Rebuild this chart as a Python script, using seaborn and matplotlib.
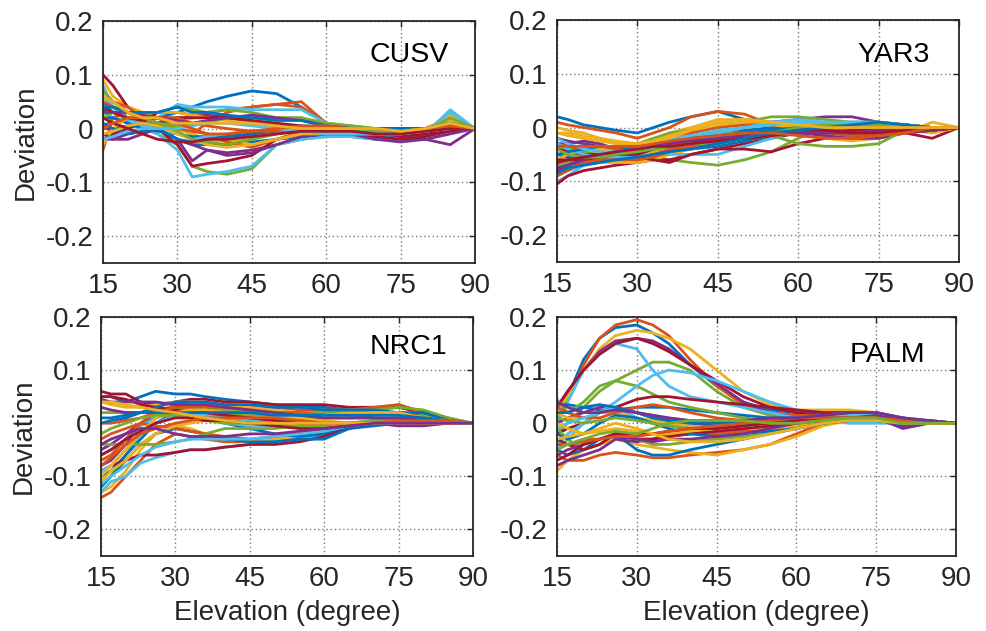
import matplotlib
matplotlib.use("Agg")
import matplotlib.pyplot as plt
import seaborn as sns
import pandas as pd

# ---------------- data ----------------
elevation = [15, 17, 20, 23, 26, 30, 33, 36, 40, 45, 50, 55, 60, 65, 70, 75, 80, 85, 90]
x_ticks = [15, 30, 45, 60, 75, 90]
y_ticks = [-0.2, -0.1, 0, 0.1, 0.2]
y_tick_labels = ["-0.2", "-0.1", "0", "0.1", "0.2"]
stations = ["CUSV", "YAR3", "NRC1", "PALM"]
matlab_colors = ["#0072BD", "#D95319", "#EDB120", "#7E2F8E", "#77AC30", "#4DBEEE", "#A2142F"]

cusv_curves = [
    [0.03, 0.05, 0.03, 0.02, 0.02, 0.03, 0.04, 0.05, 0.06, 0.07, 0.065, 0.04, 0.01, 0.0, 0.0, -0.005, -0.005, 0.0, 0.0],
    [-0.04, 0.02, 0.03, 0.03, 0.02, 0.0, -0.01, 0.01, 0.03, 0.04, 0.045, 0.05, 0.01, 0.0, 0.0, -0.005, 0.0, 0.02, 0.0],
    [0.09, 0.06, 0.04, 0.03, 0.01, 0.0, -0.01, -0.02, -0.025, -0.02, -0.01, -0.005, -0.005, -0.005, -0.01, -0.01, -0.005, 0.025, 0.0],
    [-0.02, -0.02, -0.01, -0.005, 0.0, -0.02, -0.06, -0.04, -0.045, -0.04, -0.03, -0.02, -0.01, -0.01, -0.015, -0.02, -0.02, -0.03, 0.0],
    [0.03, 0.02, 0.01, 0.0, -0.01, -0.03, -0.07, -0.08, -0.085, -0.075, -0.03, -0.02, -0.015, -0.015, -0.02, -0.02, -0.01, -0.005, 0.0],
    [0.08, 0.04, 0.01, 0.0, -0.01, -0.04, -0.09, -0.085, -0.08, -0.07, -0.03, -0.02, -0.015, -0.015, -0.02, -0.02, -0.01, 0.035, 0.0],
    [0.1, 0.08, 0.04, 0.02, 0.0, -0.03, -0.07, -0.065, -0.06, -0.05, -0.02, -0.01, -0.01, -0.01, -0.015, -0.02, -0.015, -0.005, 0.0],
    [0.05, 0.03, 0.02, 0.01, 0.0, -0.02, -0.03, -0.03, -0.03, -0.025, -0.02, -0.015, -0.01, -0.01, -0.01, -0.015, -0.01, 0.0, 0.0],
    [0.0, 0.02, 0.03, 0.02, 0.01, 0.02, 0.02, 0.03, 0.035, 0.04, 0.045, 0.04, 0.01, 0.005, 0.0, 0.0, 0.0, 0.01, 0.0],
    [0.06, 0.04, 0.04, 0.03, 0.02, 0.01, 0.0, -0.01, -0.02, -0.03, -0.02, -0.01, -0.005, 0.0, -0.005, -0.01, 0.0, 0.02, 0.0],
    [0.0, 0.0, 0.005, 0.01, 0.01, 0.02, 0.02, 0.025, 0.02, 0.01, 0.005, 0.0, 0.0, 0.0, 0.0, 0.0, 0.0, 0.0, 0.0],
    [0.04, 0.03, 0.02, 0.02, 0.03, 0.04, 0.035, 0.03, 0.035, 0.03, 0.02, 0.02, 0.005, 0.0, 0.0, -0.005, 0.0, 0.01, 0.0],
    [0.03, 0.02, 0.015, 0.01, 0.02, 0.045, 0.04, 0.04, 0.04, 0.035, 0.035, 0.035, 0.01, 0.0, 0.0, -0.01, -0.005, 0.03, 0.0],
    [-0.02, -0.01, 0.0, 0.01, 0.03, 0.03, 0.025, 0.02, 0.02, 0.01, 0.005, 0.0, -0.005, -0.005, -0.01, -0.01, -0.005, 0.005, 0.0],
    [0.02, 0.02, 0.01, 0.0, -0.005, -0.01, -0.015, -0.015, -0.015, -0.01, -0.005, -0.005, -0.005, -0.005, -0.005, -0.01, -0.005, 0.0, 0.0],
    [0.07, 0.05, 0.04, 0.02, 0.005, 0.0, -0.005, -0.01, -0.025, -0.035, -0.02, -0.005, 0.0, 0.0, -0.005, -0.005, 0.0, 0.005, 0.0],
    [-0.03, 0.0, 0.02, 0.03, 0.03, 0.03, 0.025, 0.02, 0.015, 0.01, 0.0, -0.005, -0.005, -0.005, -0.005, -0.01, 0.0, 0.015, 0.0],
    [-0.01, -0.02, -0.02, -0.01, 0.0, -0.02, -0.03, -0.04, -0.05, -0.045, -0.03, -0.015, -0.01, -0.01, -0.02, -0.025, -0.02, -0.01, 0.0],
    [0.02, 0.03, 0.02, 0.02, 0.01, 0.005, 0.01, 0.01, 0.02, 0.02, 0.02, 0.02, 0.01, 0.005, 0.0, -0.005, 0.0, 0.005, 0.0],
    [0.06, 0.04, 0.02, 0.005, 0.0, -0.01, -0.02, -0.015, -0.01, -0.005, 0.0, 0.005, 0.005, 0.0, 0.0, -0.005, 0.0, 0.01, 0.0],
    [0.04, 0.03, 0.02, 0.015, 0.02, 0.02, 0.02, 0.02, 0.02, 0.015, 0.01, 0.005, 0.0, 0.0, -0.005, -0.015, -0.01, 0.0, 0.0],
    [0.01, 0.0, -0.01, -0.005, 0.0, -0.02, -0.025, -0.02, -0.015, -0.01, 0.0, 0.0, 0.0, 0.0, -0.005, -0.005, 0.0, 0.005, 0.0],
    [0.05, 0.04, 0.03, 0.02, 0.02, 0.02, 0.01, 0.005, 0.0, -0.005, -0.005, -0.005, 0.0, 0.0, 0.0, 0.0, 0.0, 0.01, 0.0],
    [-0.01, -0.005, 0.005, 0.01, 0.005, -0.01, -0.02, -0.03, -0.035, -0.03, -0.02, -0.01, -0.01, -0.01, -0.01, -0.01, -0.005, 0.0, 0.0],
    [0.03, 0.03, 0.03, 0.025, 0.02, 0.015, 0.01, 0.015, 0.02, 0.025, 0.02, 0.015, 0.005, 0.0, 0.0, 0.0, 0.0, 0.005, 0.0],
    [0.07, 0.05, 0.03, 0.02, 0.01, -0.005, -0.02, -0.025, -0.03, -0.02, -0.01, 0.0, 0.0, 0.0, -0.005, -0.01, -0.005, 0.02, 0.0],
    [-0.02, -0.015, -0.005, 0.0, 0.0, 0.0, 0.005, 0.01, 0.01, 0.005, 0.0, -0.005, -0.01, -0.01, -0.01, -0.01, -0.005, 0.0, 0.0],
    [0.02, 0.01, 0.0, -0.01, -0.02, -0.025, -0.025, -0.02, -0.02, -0.015, -0.01, -0.005, -0.005, -0.005, -0.01, -0.01, -0.005, 0.0, 0.0],
    [0.04, 0.04, 0.03, 0.03, 0.03, 0.04, 0.03, 0.03, 0.025, 0.02, 0.015, 0.015, 0.005, 0.0, 0.0, 0.0, 0.0, 0.01, 0.0],
    [0.0, 0.01, 0.02, 0.02, 0.02, 0.01, 0.0, -0.01, -0.01, -0.005, 0.0, 0.005, 0.005, 0.0, 0.0, -0.005, 0.0, 0.005, 0.0],
    [0.06, 0.05, 0.03, 0.02, 0.02, 0.01, 0.01, 0.01, 0.01, 0.01, 0.005, 0.0, 0.0, 0.0, 0.0, -0.005, 0.0, 0.01, 0.0],
]

yar3_curves = [
    [0.02, 0.015, 0.005, 0.0, -0.005, -0.01, 0.0, 0.01, 0.02, 0.03, 0.015, 0.01, 0.005, 0.005, 0.005, 0.005, 0.005, 0.0, 0.0],
    [0.01, 0.005, 0.0, -0.005, -0.01, -0.02, -0.01, 0.0, 0.02, 0.03, 0.025, 0.005, 0.0, -0.005, -0.005, 0.0, 0.0, -0.005, 0.0],
    [-0.01, -0.01, -0.015, -0.02, -0.03, -0.04, -0.03, -0.01, 0.0, 0.015, 0.015, 0.01, 0.005, 0.0, 0.0, 0.0, -0.005, -0.01, 0.0],
    [-0.03, -0.03, -0.025, -0.03, -0.04, -0.045, -0.04, -0.03, -0.02, -0.01, 0.0, 0.01, 0.015, 0.02, 0.02, 0.01, 0.005, 0.0, 0.0],
    [-0.05, -0.05, -0.045, -0.05, -0.05, -0.05, -0.055, -0.06, -0.065, -0.07, -0.06, -0.045, -0.02, 0.0, 0.005, 0.005, 0.0, 0.0, 0.0],
    [-0.1, -0.09, -0.07, -0.06, -0.055, -0.05, -0.045, -0.04, -0.03, -0.02, -0.01, 0.0, 0.0, 0.005, 0.005, 0.005, 0.0, 0.0, 0.0],
    [-0.105, -0.09, -0.08, -0.075, -0.07, -0.065, -0.06, -0.06, -0.05, -0.04, -0.03, -0.02, -0.01, -0.005, -0.005, -0.005, -0.01, -0.02, 0.0],
    [-0.07, -0.06, -0.05, -0.05, -0.05, -0.05, -0.045, -0.04, -0.04, -0.035, -0.025, -0.015, -0.005, 0.0, 0.0, 0.005, 0.005, -0.005, 0.0],
    [-0.06, -0.07, -0.065, -0.06, -0.06, -0.055, -0.05, -0.04, -0.03, -0.025, -0.02, -0.01, 0.0, 0.005, 0.005, 0.005, 0.005, 0.0, 0.0],
    [-0.08, -0.075, -0.07, -0.065, -0.065, -0.065, -0.06, -0.05, -0.04, -0.03, -0.02, -0.01, -0.005, 0.0, 0.0, 0.0, 0.0, -0.01, 0.0],
    [-0.02, -0.025, -0.03, -0.035, -0.04, -0.04, -0.035, -0.025, -0.01, 0.005, 0.01, 0.005, 0.0, 0.0, -0.005, -0.005, -0.01, -0.005, 0.0],
    [-0.04, -0.04, -0.04, -0.04, -0.035, -0.03, -0.02, -0.01, -0.005, 0.0, 0.01, 0.02, 0.02, 0.015, 0.01, 0.01, 0.005, 0.0, 0.0],
    [-0.09, -0.08, -0.07, -0.06, -0.05, -0.05, -0.05, -0.05, -0.05, -0.05, -0.035, -0.02, -0.005, 0.0, 0.0, 0.0, -0.005, 0.0, 0.0],
    [-0.04, -0.045, -0.05, -0.05, -0.05, -0.055, -0.06, -0.065, -0.05, -0.04, -0.04, -0.045, -0.03, -0.02, -0.02, -0.01, 0.0, -0.005, 0.0],
    [-0.05, -0.055, -0.06, -0.06, -0.055, -0.05, -0.045, -0.035, -0.02, -0.01, -0.005, 0.0, 0.0, 0.005, 0.01, 0.01, 0.005, 0.0, 0.0],
    [-0.03, -0.035, -0.04, -0.04, -0.04, -0.035, -0.03, -0.02, -0.01, 0.0, 0.005, 0.005, 0.0, -0.01, -0.015, -0.01, -0.01, -0.005, 0.0],
    [-0.06, -0.05, -0.04, -0.04, -0.045, -0.05, -0.045, -0.035, -0.025, -0.01, 0.0, 0.005, 0.0, -0.02, -0.025, -0.02, -0.01, 0.01, 0.0],
    [-0.08, -0.07, -0.06, -0.055, -0.05, -0.045, -0.04, -0.035, -0.03, -0.025, -0.02, -0.015, -0.01, -0.015, -0.02, -0.02, -0.01, -0.005, 0.0],
    [-0.07, -0.065, -0.06, -0.055, -0.05, -0.045, -0.04, -0.03, -0.02, -0.01, -0.01, -0.015, -0.03, -0.035, -0.035, -0.03, -0.005, 0.0, 0.0],
    [-0.03, -0.04, -0.05, -0.055, -0.055, -0.05, -0.04, -0.03, -0.02, -0.01, 0.0, 0.01, 0.015, 0.01, 0.005, 0.0, -0.005, 0.0, 0.0],
    [-0.06, -0.06, -0.06, -0.055, -0.05, -0.05, -0.04, -0.03, -0.025, -0.02, -0.02, -0.015, -0.01, -0.01, -0.005, 0.0, 0.0, -0.005, 0.0],
    [-0.05, -0.045, -0.04, -0.035, -0.035, -0.04, -0.035, -0.03, -0.02, -0.015, -0.01, -0.005, 0.0, 0.0, 0.0, 0.0, 0.0, 0.0, 0.0],
    [-0.09, -0.08, -0.065, -0.06, -0.06, -0.06, -0.055, -0.045, -0.035, -0.025, -0.015, -0.01, -0.005, -0.005, 0.0, 0.0, 0.0, 0.0, 0.0],
    [-0.01, -0.015, -0.02, -0.025, -0.03, -0.03, -0.025, -0.015, -0.005, 0.005, 0.01, 0.01, 0.005, 0.005, 0.005, 0.005, 0.0, 0.0, 0.0],
    [-0.075, -0.07, -0.06, -0.05, -0.045, -0.04, -0.035, -0.03, -0.025, -0.02, -0.015, -0.01, -0.01, -0.01, -0.01, -0.005, 0.0, -0.005, 0.0],
    [-0.04, -0.05, -0.055, -0.055, -0.05, -0.045, -0.04, -0.035, -0.03, -0.03, -0.02, -0.01, 0.0, 0.005, 0.005, 0.005, 0.005, 0.0, 0.0],
    [-0.02, -0.03, -0.04, -0.045, -0.045, -0.04, -0.03, -0.02, -0.015, -0.005, 0.0, 0.005, 0.01, 0.01, 0.01, 0.01, 0.005, 0.0, 0.0],
    [-0.065, -0.06, -0.055, -0.05, -0.045, -0.04, -0.035, -0.035, -0.03, -0.025, -0.02, -0.015, -0.005, -0.005, -0.01, -0.01, -0.005, 0.0, 0.0],
    [-0.085, -0.075, -0.07, -0.065, -0.06, -0.055, -0.05, -0.045, -0.04, -0.03, -0.02, -0.01, -0.005, 0.0, 0.005, 0.01, 0.005, 0.0, 0.0],
    [-0.035, -0.035, -0.035, -0.035, -0.035, -0.035, -0.03, -0.025, -0.02, -0.015, -0.01, -0.01, -0.015, -0.02, -0.02, -0.015, -0.01, 0.0, 0.0],
    [0.0, -0.005, -0.01, -0.02, -0.025, -0.03, -0.025, -0.02, -0.005, 0.01, 0.015, 0.01, 0.005, 0.0, 0.0, 0.0, 0.0, 0.0, 0.0],
]

nrc1_curves = [
    [0.05, 0.05, 0.04, 0.05, 0.06, 0.055, 0.055, 0.05, 0.045, 0.04, 0.035, 0.03, 0.03, 0.025, 0.02, 0.02, 0.015, 0.005, 0.0],
    [-0.14, -0.13, -0.1, -0.07, -0.04, -0.02, -0.025, -0.03, -0.035, -0.035, -0.03, -0.03, -0.02, -0.005, 0.0, 0.0, 0.0, 0.0, 0.0],
    [-0.13, -0.12, -0.09, -0.05, -0.02, -0.005, -0.01, -0.02, -0.03, -0.035, -0.03, -0.025, -0.015, -0.005, 0.0, 0.0, 0.0, 0.0, 0.0],
    [-0.08, -0.07, -0.04, 0.0, 0.02, 0.03, 0.03, 0.025, 0.02, 0.015, 0.01, 0.01, 0.01, 0.015, 0.02, 0.035, 0.02, 0.005, 0.0],
    [-0.12, -0.1, -0.06, -0.02, 0.01, 0.025, 0.025, 0.02, 0.02, 0.015, 0.015, 0.02, 0.02, 0.02, 0.025, 0.03, 0.02, 0.01, 0.0],
    [-0.13, -0.11, -0.1, -0.075, -0.065, -0.055, -0.05, -0.05, -0.045, -0.04, -0.035, -0.03, -0.02, -0.005, 0.0, 0.005, 0.01, 0.005, 0.0],
    [0.06, 0.055, 0.055, 0.04, 0.035, 0.04, 0.045, 0.045, 0.04, 0.04, 0.035, 0.035, 0.035, 0.03, 0.03, 0.03, 0.02, 0.005, 0.0],
    [-0.1, -0.09, -0.06, -0.03, 0.0, 0.02, 0.02, 0.01, 0.0, -0.01, -0.02, -0.025, -0.02, -0.01, -0.005, 0.0, 0.005, 0.005, 0.0],
    [0.0, 0.0, 0.005, 0.01, 0.02, 0.035, 0.04, 0.04, 0.035, 0.03, 0.03, 0.025, 0.025, 0.025, 0.03, 0.035, 0.02, 0.005, 0.0],
    [0.04, 0.035, 0.03, 0.03, 0.035, 0.04, 0.04, 0.04, 0.035, 0.03, 0.025, 0.02, 0.02, 0.02, 0.02, 0.02, 0.015, 0.005, 0.0],
    [-0.05, -0.04, -0.02, 0.0, 0.01, 0.02, 0.02, 0.015, 0.01, 0.005, 0.005, 0.005, 0.01, 0.01, 0.015, 0.02, 0.015, 0.0, 0.0],
    [0.02, 0.02, 0.02, 0.02, 0.025, 0.03, 0.03, 0.03, 0.025, 0.02, 0.02, 0.02, 0.02, 0.025, 0.025, 0.03, 0.025, 0.01, 0.0],
    [-0.06, -0.05, -0.03, -0.005, 0.01, 0.02, 0.02, 0.01, 0.0, -0.005, -0.005, -0.005, -0.005, 0.0, 0.0, 0.005, 0.01, 0.005, 0.0],
    [-0.09, -0.08, -0.07, -0.06, -0.06, -0.055, -0.05, -0.05, -0.045, -0.04, -0.04, -0.035, -0.025, -0.01, 0.0, 0.0, 0.005, 0.0, 0.0],
    [-0.12, -0.1, -0.07, -0.04, -0.02, -0.01, -0.015, -0.02, -0.03, -0.035, -0.035, -0.03, -0.03, -0.01, 0.0, 0.0, 0.005, 0.005, 0.0],
    [-0.03, -0.02, -0.01, 0.0, -0.005, -0.01, -0.015, -0.02, -0.025, -0.03, -0.025, -0.02, -0.01, 0.0, 0.005, 0.01, 0.005, 0.0, 0.0],
    [-0.11, -0.09, -0.07, -0.04, -0.02, -0.005, 0.0, 0.005, 0.01, 0.01, 0.01, 0.01, 0.005, 0.0, 0.0, 0.0, 0.0, 0.0, 0.0],
    [0.03, 0.025, 0.02, 0.02, 0.025, 0.025, 0.02, 0.015, 0.01, 0.01, 0.005, 0.0, 0.0, 0.0, 0.0, -0.005, -0.005, 0.0, 0.0],
    [-0.04, -0.04, -0.04, -0.04, -0.04, -0.035, -0.03, -0.02, -0.01, -0.01, -0.01, -0.005, 0.0, 0.0, 0.005, 0.01, 0.015, 0.005, 0.0],
    [-0.09, -0.08, -0.05, -0.02, 0.0, 0.015, 0.02, 0.015, 0.01, 0.005, 0.005, 0.0, 0.0, 0.0, 0.0, 0.0, 0.0, 0.005, 0.0],
    [0.05, 0.05, 0.045, 0.035, 0.03, 0.025, 0.02, 0.02, 0.015, 0.01, 0.005, 0.0, -0.005, -0.005, 0.0, 0.0, 0.0, 0.0, 0.0],
    [0.0, 0.005, 0.01, 0.02, 0.03, 0.04, 0.04, 0.04, 0.035, 0.035, 0.03, 0.03, 0.025, 0.025, 0.025, 0.02, 0.02, 0.005, 0.0],
    [-0.07, -0.06, -0.03, 0.0, 0.02, 0.03, 0.03, 0.03, 0.03, 0.025, 0.02, 0.02, 0.015, 0.01, 0.01, 0.01, 0.01, 0.005, 0.0],
    [-0.1, -0.08, -0.05, -0.02, 0.01, 0.02, 0.025, 0.025, 0.02, 0.02, 0.02, 0.015, 0.015, 0.015, 0.02, 0.02, 0.01, 0.005, 0.0],
    [0.045, 0.04, 0.04, 0.04, 0.04, 0.035, 0.035, 0.035, 0.03, 0.025, 0.02, 0.015, 0.01, 0.01, 0.01, 0.01, 0.005, 0.0, 0.0],
    [-0.02, -0.01, 0.0, 0.01, 0.015, 0.015, 0.01, 0.005, 0.0, 0.0, 0.0, -0.005, -0.005, -0.005, 0.0, 0.0, 0.0, 0.0, 0.0],
    [-0.115, -0.1, -0.08, -0.06, -0.045, -0.035, -0.03, -0.03, -0.03, -0.03, -0.025, -0.02, -0.015, -0.005, 0.0, 0.0, 0.0, 0.0, 0.0],
    [-0.06, -0.05, -0.03, -0.015, 0.0, 0.01, 0.01, 0.005, 0.005, 0.0, -0.005, -0.01, -0.01, -0.005, 0.0, 0.0, 0.0, 0.0, 0.0],
    [0.01, 0.01, 0.015, 0.02, 0.02, 0.02, 0.02, 0.02, 0.02, 0.02, 0.015, 0.015, 0.015, 0.015, 0.015, 0.015, 0.01, 0.005, 0.0],
    [-0.08, -0.065, -0.04, -0.02, -0.01, 0.0, 0.005, 0.01, 0.01, 0.01, 0.01, 0.005, 0.0, 0.0, 0.0, 0.005, 0.005, 0.005, 0.0],
    [0.04, 0.04, 0.035, 0.03, 0.025, 0.02, 0.015, 0.01, 0.005, 0.0, 0.0, 0.0, 0.0, 0.0, 0.0, 0.0, 0.0, 0.0, 0.0],
    [-0.04, -0.03, -0.02, -0.01, -0.01, -0.02, -0.025, -0.025, -0.025, -0.02, -0.02, -0.015, -0.01, -0.005, 0.0, 0.0, 0.0, 0.0, 0.0],
]

palm_curves = [
    [0.0, 0.05, 0.12, 0.16, 0.18, 0.185, 0.17, 0.15, 0.11, 0.07, 0.04, 0.025, 0.02, 0.015, 0.015, 0.01, 0.005, 0.0, 0.0],
    [0.0, 0.04, 0.11, 0.16, 0.185, 0.195, 0.185, 0.165, 0.12, 0.07, 0.035, 0.02, 0.015, 0.02, 0.02, 0.015, 0.005, 0.0, 0.0],
    [0.02, 0.05, 0.1, 0.14, 0.165, 0.175, 0.17, 0.16, 0.14, 0.1, 0.06, 0.035, 0.025, 0.025, 0.025, 0.02, 0.01, 0.0, 0.0],
    [0.03, 0.06, 0.1, 0.135, 0.155, 0.16, 0.155, 0.14, 0.11, 0.075, 0.04, 0.02, 0.01, 0.01, 0.01, 0.005, -0.005, 0.0, 0.0],
    [-0.02, 0.0, 0.03, 0.06, 0.08, 0.1, 0.115, 0.115, 0.1, 0.06, 0.03, 0.015, 0.01, 0.01, 0.015, 0.015, 0.01, 0.0, 0.0],
    [0.0, 0.04, 0.1, 0.13, 0.15, 0.14, 0.1, 0.07, 0.05, 0.04, 0.03, 0.02, 0.01, 0.005, 0.0, 0.0, 0.0, 0.0, 0.0],
    [0.03, 0.06, 0.1, 0.13, 0.15, 0.16, 0.15, 0.135, 0.11, 0.08, 0.05, 0.03, 0.02, 0.02, 0.02, 0.015, 0.005, 0.0, 0.0],
    [0.035, 0.035, 0.03, 0.025, 0.025, 0.03, 0.03, 0.03, 0.025, 0.02, 0.015, 0.01, 0.01, 0.01, 0.01, 0.01, 0.005, 0.0, 0.0],
    [-0.06, -0.07, -0.07, -0.06, -0.055, -0.06, -0.065, -0.065, -0.06, -0.055, -0.05, -0.04, -0.02, 0.0, 0.01, 0.01, 0.005, 0.0, 0.0],
    [-0.09, -0.07, -0.05, -0.04, -0.03, -0.04, -0.045, -0.05, -0.055, -0.06, -0.05, -0.04, -0.025, -0.005, 0.005, 0.01, 0.005, 0.0, 0.0],
    [0.0, 0.01, 0.02, 0.03, 0.03, 0.02, 0.01, 0.005, 0.0, -0.005, -0.01, -0.005, 0.0, 0.005, 0.01, 0.01, -0.01, 0.0, 0.0],
    [0.045, 0.02, 0.04, 0.07, 0.08, 0.07, 0.055, 0.04, 0.03, 0.02, 0.01, 0.005, 0.005, 0.01, 0.01, 0.01, 0.005, 0.0, 0.0],
    [-0.05, -0.03, 0.0, 0.02, 0.04, 0.07, 0.09, 0.1, 0.095, 0.08, 0.06, 0.04, 0.025, 0.02, 0.015, 0.01, 0.005, 0.0, 0.0],
    [-0.02, -0.01, 0.0, 0.02, 0.03, 0.045, 0.05, 0.05, 0.045, 0.04, 0.035, 0.03, 0.025, 0.02, 0.015, 0.015, 0.005, 0.0, 0.0],
    [-0.05, -0.06, -0.05, -0.03, -0.02, -0.05, -0.06, -0.06, -0.05, -0.04, -0.03, -0.02, -0.01, 0.0, 0.005, 0.005, 0.0, 0.0, 0.0],
    [-0.04, -0.04, -0.03, -0.03, -0.02, -0.03, -0.03, -0.02, -0.02, -0.02, -0.015, -0.01, -0.005, 0.005, 0.01, 0.01, 0.005, 0.005, 0.0],
    [0.02, 0.01, 0.01, 0.02, 0.02, 0.01, 0.005, 0.0, -0.005, -0.01, -0.01, -0.01, -0.005, 0.005, 0.015, 0.02, 0.01, 0.0, 0.0],
    [-0.08, -0.07, -0.06, -0.05, -0.03, -0.035, -0.03, -0.025, -0.02, -0.015, -0.01, -0.005, 0.0, 0.005, 0.01, 0.01, 0.0, 0.0, 0.0],
    [-0.01, -0.03, -0.05, -0.04, -0.02, -0.03, -0.04, -0.04, -0.035, -0.03, -0.025, -0.02, -0.01, 0.0, 0.01, 0.015, 0.01, 0.0, 0.0],
    [-0.04, -0.02, 0.0, 0.02, 0.03, 0.01, 0.0, -0.005, -0.01, -0.005, 0.0, 0.0, 0.005, 0.005, 0.005, 0.005, 0.0, 0.0, 0.0],
    [-0.03, -0.04, -0.05, -0.04, -0.02, -0.03, -0.03, -0.025, -0.02, -0.015, -0.01, -0.005, 0.0, 0.01, 0.015, 0.01, 0.0, 0.0, 0.0],
    [-0.02, -0.03, -0.02, 0.0, 0.015, 0.01, 0.0, -0.01, -0.02, -0.025, -0.02, -0.015, -0.01, 0.0, 0.005, 0.005, 0.0, 0.0, 0.0],
    [0.03, 0.02, 0.01, 0.01, 0.02, 0.03, 0.035, 0.03, 0.02, 0.01, 0.005, 0.0, 0.0, 0.005, 0.01, 0.01, 0.005, 0.005, 0.0],
    [-0.03, -0.025, -0.02, -0.015, -0.01, -0.015, -0.02, -0.02, -0.015, -0.01, -0.005, 0.0, 0.005, 0.01, 0.015, 0.015, 0.01, 0.0, 0.0],
    [-0.06, -0.05, -0.04, -0.03, -0.025, -0.03, -0.035, -0.03, -0.03, -0.025, -0.02, -0.01, 0.0, 0.01, 0.015, 0.015, 0.005, 0.0, 0.0],
    [0.01, 0.005, 0.0, 0.005, 0.01, 0.005, 0.0, -0.005, -0.01, -0.01, -0.005, 0.0, 0.005, 0.01, 0.01, 0.01, 0.005, 0.0, 0.0],
    [-0.01, 0.0, 0.01, 0.02, 0.025, 0.02, 0.015, 0.01, 0.005, 0.0, 0.0, 0.005, 0.005, 0.01, 0.015, 0.02, 0.01, 0.0, 0.0],
    [-0.07, -0.06, -0.04, -0.03, -0.02, -0.02, -0.02, -0.015, -0.01, -0.01, -0.005, 0.0, 0.005, 0.01, 0.01, 0.01, 0.005, 0.0, 0.0],
    [0.02, 0.02, 0.03, 0.035, 0.03, 0.02, 0.01, 0.005, 0.0, 0.0, 0.0, 0.005, 0.01, 0.015, 0.02, 0.02, 0.01, 0.005, 0.0],
    [-0.04, -0.04, -0.035, -0.03, -0.025, -0.025, -0.02, -0.015, -0.01, -0.005, 0.0, 0.005, 0.01, 0.01, 0.01, 0.01, 0.005, 0.0, 0.0],
    [0.0, -0.01, -0.02, -0.01, 0.0, -0.01, -0.02, -0.03, -0.035, -0.035, -0.03, -0.02, -0.01, 0.0, 0.005, 0.005, 0.0, 0.0, 0.0],
    [0.04, 0.03, 0.02, 0.02, 0.025, 0.02, 0.015, 0.01, 0.005, 0.005, 0.005, 0.01, 0.01, 0.015, 0.02, 0.02, 0.01, 0.005, 0.0],
    [-0.05, -0.04, -0.03, -0.02, -0.015, -0.02, -0.01, 0.0, 0.005, 0.005, 0.005, 0.0, 0.0, 0.005, 0.01, 0.01, 0.0, 0.0, 0.0],
]

panel_curves = [cusv_curves, yar3_curves, nrc1_curves, palm_curves]

# ---------------- style ----------------
sns.set_theme(style="white")
plt.rcParams["font.family"] = ["Liberation Sans", "DejaVu Sans"]
text_color = "#262626"

fig = plt.figure(figsize=(9.86, 6.31), dpi=100)
W, H = 986.0, 631.0
# left, top, right, bottom in pixels
boxes = [(103, 21, 475, 263), (557, 20, 959, 262), (101, 317, 473, 556), (557, 317, 956, 556)]
label_pos = [(0.93, 0.86), (0.928, 0.855), (0.93, 0.875), (0.922, 0.84)]

for i, (curves, name) in enumerate(zip(panel_curves, stations)):
    l, t, r, b = boxes[i]
    ax = fig.add_axes([l / W, 1 - b / H, (r - l) / W, (b - t) / H])
    rows = []
    for k, c in enumerate(curves):
        for e, v in zip(elevation, c):
            rows.append((k, e, v))
    df = pd.DataFrame(rows, columns=["curve", "elev", "dev"])
    pal = [matlab_colors[k % len(matlab_colors)] for k in range(len(curves))]
    sns.lineplot(data=df, x="elev", y="dev", hue="curve", palette=pal, legend=False,
                 estimator=None, sort=False, linewidth=2.0, ax=ax)
    ax.set_xlim(15, 90)
    ax.set_ylim(-0.25, 0.2)
    ax.set_xticks(x_ticks)
    ax.set_xticklabels([str(v) for v in x_ticks])
    ax.set_yticks(y_ticks)
    ax.set_yticklabels(y_tick_labels)
    ax.grid(True, linestyle=(0, (1, 2)), color="#7a7a7a", linewidth=1.0)
    ax.set_axisbelow(True)
    for s in ax.spines.values():
        s.set_visible(True)
        s.set_color(text_color)
        s.set_linewidth(1.3)
    ax.tick_params(axis="both", direction="in", length=4, width=1, colors=text_color,
                   labelsize=20, top=True, right=True, pad=7)
    ax.set_xlabel("Elevation (degree)" if i >= 2 else "", fontsize=20, color=text_color, labelpad=6)
    ax.set_ylabel("Deviation" if i % 2 == 0 else "", fontsize=20, color=text_color, labelpad=5)
    ax.text(label_pos[i][0], label_pos[i][1], name, transform=ax.transAxes,
            ha="right", va="center", fontsize=20.5, color="black")

fig.savefig("out.png", dpi=100)
